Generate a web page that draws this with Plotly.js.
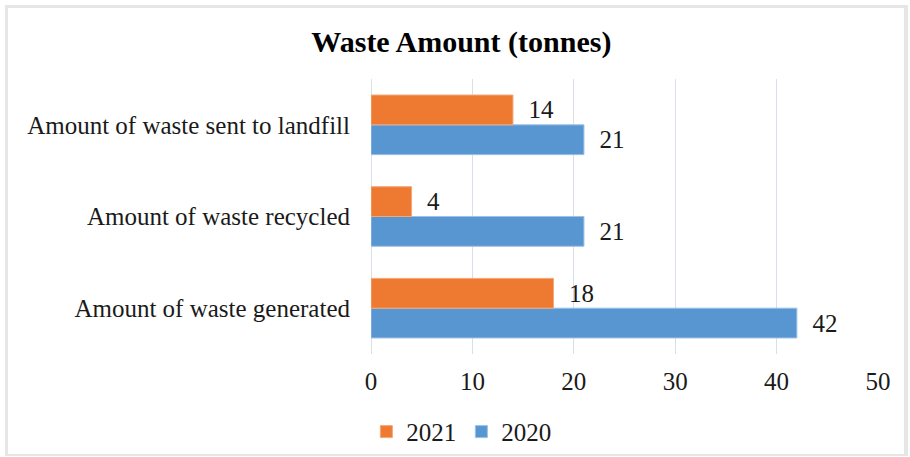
<!DOCTYPE html>
<html><head><meta charset="utf-8">
<script src="https://cdn.plot.ly/plotly-3.0.1.min.js"></script>
<style>
html,body{margin:0;padding:0;background:#fff;}
#wrap{position:relative;width:910px;height:457px;}
#chart{width:910px;height:457px;}
#frame{position:absolute;left:5px;top:5px;width:903px;height:451px;box-sizing:border-box;border:3px solid #e6e6e6;border-right-width:4px;border-bottom-width:2px;pointer-events:none;}
</style></head>
<body><div id="wrap"><div id="chart"></div><div id="frame"></div></div>
<script>
const categories = ['Amount of waste generated','Amount of waste recycled','Amount of waste sent to landfill'];
const values2020 = [42, 21, 21];
const values2021 = [18, 4, 14];
const seriesNames = ['2020','2021'];
const xTicks = [0,10,20,30,40,50];

const font = '"Liberation Serif"';
const pad = '\u00a0\u00a0';
const traces = [
  {type:'bar', orientation:'h', name:seriesNames[0], y:categories, x:values2020,
   marker:{color:'#5896d2', line:{color:'#9dc0e6', width:1}},
   text:values2020.map(v => pad + v), textposition:'outside', cliponaxis:false,
   textfont:{family:font, size:25, color:'#1a1a1a'}},
  {type:'bar', orientation:'h', name:seriesNames[1], y:categories, x:values2021,
   marker:{color:'#ee7a32', line:{color:'#f3a877', width:1}},
   text:values2021.map(v => pad + v), textposition:'outside', cliponaxis:false,
   textfont:{family:font, size:25, color:'#1a1a1a'}}
];
const layout = {
  width:910, height:457,
  margin:{l:371, r:32, t:79, b:103},
  paper_bgcolor:'#ffffff', plot_bgcolor:'#ffffff',
  font:{family:font, size:25, color:'#1a1a1a'},
  title:{text:'<b>Waste Amount (tonnes)</b>', x:0.507, xref:'container', y:0.91, yref:'container', yanchor:'middle',
         font:{family:font, size:30, color:'#000'}},
  barmode:'group', bargap:0.35, bargroupgap:0,
  xaxis:{range:[0,50], tickvals:xTicks, showgrid:true, gridcolor:'#d9dfe8', gridwidth:1,
         zeroline:true, zerolinecolor:'#d9dfe8', zerolinewidth:1, showline:false,
         ticks:'', ticklabelstandoff:10, tickfont:{family:font, size:25, color:'#1a1a1a'}},
  yaxis:{type:'category', showgrid:false, zeroline:false, showline:false, ticks:'',
         ticklabelstandoff:20, tickfont:{family:font, size:25, color:'#1a1a1a'}},
  showlegend:true,
  legend:{orientation:'h', traceorder:'reversed', xref:'container', yref:'container', x:0.507, xanchor:'center', y:0.055, yanchor:'middle',
          font:{family:font, size:25, color:'#1a1a1a'}, itemwidth:30}
};
Plotly.newPlot('chart', traces, layout, {displayModeBar:false, staticPlot:true});
</script></body></html>
